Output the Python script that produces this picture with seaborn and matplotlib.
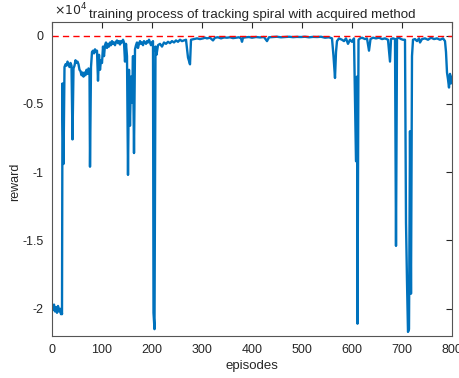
import matplotlib
matplotlib.use("Agg")
import matplotlib.pyplot as plt
import seaborn as sns
import pandas as pd

# ---- data, in segments ----
ep_a = [0, 2, 4, 6, 8, 10, 12, 14, 16, 18, 19, 20]
rw_a = [-19800, -20100, -19700, -20200, -19900, -20300, -19800, -20200, -20000, -20400, -20100, -20400]

ep_b = [21, 23, 25, 27, 29, 31, 33, 35, 37, 39,
        41, 43, 45, 47, 49, 51, 53, 55, 57, 59,
        61, 63, 65, 67, 69, 71, 73, 75, 76]
rw_b = [-3500, -9400, -2300, -2100, -2200, -1900, -2100, -2300, -2000, -2200,
        -7600, -2400, -2200, -1800, -2000, -1900, -2100, -2500, -2600, -2900,
        -2700, -3000, -2700, -2900, -2500, -2800, -2400, -2500, -9600]

ep_c = [78, 80, 82, 84, 86, 88, 90, 92, 94, 96,
        98, 100, 102, 104, 106, 108, 110, 112, 114, 116,
        118, 120, 122, 124, 126, 128, 130, 132, 134, 136,
        138, 140, 142, 144, 146, 148]
rw_c = [-2300, -1200, -1100, -1300, -1000, -1200, -1100, -3300, -1400, -2500,
        -1800, -2000, -800, -1500, -700, -500, -900, -600, -800, -500,
        -700, -400, -600, -500, -700, -450, -350, -550, -400, -650,
        -400, -500, -300, -500, -1900, -600]

ep_d = [150, 152, 154, 156, 158, 160, 162, 164, 166, 168,
        170, 172, 174, 176, 178, 180, 182, 184, 186, 188,
        190, 192, 194, 196, 198, 200, 202, 203, 205, 207,
        209]
rw_d = [-1500, -10200, -2500, -6600, -3000, -4900, -1500, -8600, -1000, -700,
        -500, -900, -600, -400, -600, -500, -700, -400, -500, -600,
        -400, -500, -300, -500, -700, -500, -400, -20300, -21500, -800,
        -1400]

ep_e = [212, 216, 220, 224, 228, 232, 236, 240, 244, 248,
        252, 256, 260, 264, 268, 272, 276, 278, 284, 290,
        296, 302, 306, 310, 316, 322, 326, 332, 338, 344,
        350, 356, 362, 368, 374, 378, 380, 382, 388, 394,
        400]
rw_e = [-700, -600, -800, -500, -600, -450, -550, -400, -500, -350,
        -450, -300, -400, -350, -300, -1600, -2100, -300, -250, -200,
        -250, -200, -150, -200, -150, -350, -150, -120, -200, -130,
        -150, -120, -180, -150, -120, -200, -450, -150, -120, -100,
        -150]

ep_f = [408, 416, 424, 430, 434, 442, 450, 458, 466, 474,
        482, 490, 498, 506, 514, 522, 530, 538, 546, 554,
        560, 563, 566, 568, 570, 574, 580, 584, 588, 592,
        596, 600, 604]
rw_f = [-100, -130, -100, -400, -120, -100, -80, -120, -100, -80,
        -110, -90, -100, -80, -120, -90, -100, -80, -150, -120,
        -200, -1500, -3100, -1200, -400, -200, -300, -400, -200, -600,
        -300, -450, -200]

ep_g = [608, 610, 611, 613, 616, 620, 626, 630, 634, 637,
        642, 648, 654, 660, 666, 672, 676, 678, 682, 686,
        688, 690, 694, 698, 702, 706, 708, 710, 712, 714,
        716, 718, 720]
rw_g = [-9200, -3000, -21100, -300, -200, -150, -250, -200, -1100, -250,
        -150, -200, -150, -250, -200, -300, -1900, -250, -200, -250,
        -15400, -200, -150, -250, -300, -300, -13700, -18000, -21700, -21500,
        -7000, -18900, -1500]

ep_h = [722, 726, 730, 734, 736, 740, 746, 752, 758, 764,
        770, 776, 782, 786, 788, 790, 792, 794, 796, 798,
        800]
rw_h = [-300, -250, -400, -200, -500, -250, -200, -300, -150, -250,
        -200, -300, -200, -400, -1200, -2700, -3200, -3800, -2800, -3500,
        -3000]

ref_level = 0
x_ticks = [0, 100, 200, 300, 400, 500, 600, 700, 800]
y_ticks = [-20000, -15000, -10000, -5000, 0]
y_tick_labels = ['-2', '-1.5', '-1', '-0.5', '0']

episodes = ep_a + ep_b + ep_c + ep_d + ep_e + ep_f + ep_g + ep_h
rewards = rw_a + rw_b + rw_c + rw_d + rw_e + rw_f + rw_g + rw_h
df = pd.DataFrame({"episodes": episodes, "reward": rewards})

sns.set_style("white")
plt.rcParams['font.family'] = ['Liberation Sans', 'DejaVu Sans']

fig = plt.figure(figsize=(4.59, 3.78), dpi=100)
ax = fig.add_axes([52/459, 1-336/378, 400/459, 314/378])

sns.lineplot(data=df, x="episodes", y="reward", ax=ax, color='#0072BD',
             linewidth=1.7, estimator=None, sort=False)
ax.axhline(ref_level, color='#FF0000', linewidth=1.0, dashes=(4.5, 3))

ax.set_xlim(0, 800)
ax.set_ylim(-22000, 1000)
ax.set_xticks(x_ticks)
ax.set_xticklabels([str(t) for t in x_ticks])
ax.set_yticks(y_ticks)
ax.set_yticklabels(y_tick_labels)

tc = '#262626'
for s in ax.spines.values():
    s.set_visible(True)
    s.set_color('#555555')
    s.set_linewidth(0.8)
ax.tick_params(direction='in', length=4, width=0.8, colors=tc,
               labelsize=9, top=True, right=True, pad=6)

ax.set_xlabel('episodes', fontsize=9.5, color=tc, labelpad=3)
ax.set_ylabel('reward', fontsize=9, color=tc)
ax.yaxis.set_label_coords(-0.078, 0.49)
ax.set_title('training process of tracking spiral with acquired method',
             fontsize=9.6, color=tc, pad=3)
ax.text(0.005, 1.012, r'$\times10^{4}$', transform=ax.transAxes,
        ha='left', va='bottom', fontsize=9, color=tc)

fig.savefig('out.png', dpi=100)
